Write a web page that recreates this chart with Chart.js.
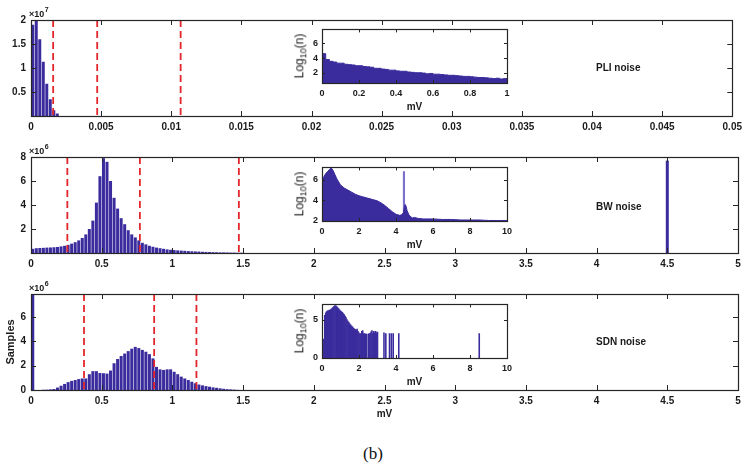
<!DOCTYPE html>
<html><head><meta charset="utf-8">
<script src="https://cdn.jsdelivr.net/npm/chart.js@4/dist/chart.umd.min.js"></script>
<style>
body{margin:0;background:#fff;}
#wrap{position:relative;width:747px;height:472px;overflow:hidden;background:#fff;}
canvas{position:absolute;}
.lbl{position:absolute;font:bold 10px 'Liberation Sans',Arial,sans-serif;color:#1a1a1a;white-space:nowrap;line-height:12px;}
.ylog{position:absolute;font:12px 'Liberation Sans',Arial,sans-serif;color:#1a1a1a;white-space:nowrap;transform:translate(-50%,-50%) rotate(-90deg);line-height:13px;}
.ylog sub{font-size:9px;}
.cap{position:absolute;font:17px 'Liberation Serif','DejaVu Serif',serif;color:#111;white-space:nowrap;}
</style>
</head><body><div id="wrap"></div>
<script>
// ---------------- DATA ----------------
// Panel 1: PLI noise (counts in units of 1e7), bin width 0.00025 mV
const pliBinWidth = 0.00025;
const pliCounts = [1.9, 2.0, 1.6, 1.13, 0.67, 0.35, 0.12, 0.05];
const pliThresholds = [0.00158, 0.00472, 0.01067];
const pliXTicks = [0,0.005,0.01,0.015,0.02,0.025,0.03,0.035,0.04,0.045,0.05];
const pliYTicks = [0,0.5,1,1.5,2];

// Panel 2: BW noise (counts in units of 1e6), bin width 0.025 mV
const bwBinWidth = 0.025;
const bwCounts = [0.35,0.4,0.42,0.43,0.45,0.46,0.48,0.5,0.55,0.6,
  0.68,0.78,0.9,1.05,1.25,1.55,2.0,2.7,4.2,6.4,
  7.9,7.6,6.0,4.6,3.7,2.9,2.4,1.9,1.55,1.3,
  1.05,0.85,0.72,0.6,0.52,0.45,0.4,0.35,0.3,0.27,
  0.24,0.22,0.2,0.18,0.16,0.14,0.13,0.12,0.1,0.09,
  0.08,0.07,0.06,0.05,0.05,0.04,0.03,0.03,0.02,0.02];
const bwSpikeX = [4.5];
const bwSpikeCounts = [7.7];
const bwThresholds = [0.257, 0.77, 1.47];
const mvXTicks = [0,0.5,1,1.5,2,2.5,3,3.5,4,4.5,5];
const bwYTicks = [0,2,4,6,8];

// Panel 3: SDN noise (counts in units of 1e6), bin width 0.025 mV
const sdnBinWidth = 0.025;
const sdnCounts = [7.9,0,0,0.02,0.03,0.05,0.08,0.2,0.35,0.5,
  0.65,0.75,0.82,0.9,0.95,0.95,1.3,1.55,1.55,1.4,
  1.38,1.35,1.6,2.2,2.55,2.8,3.0,3.2,3.4,3.55,
  3.45,3.3,3.15,2.95,2.6,1.9,1.7,1.65,1.7,1.7,
  1.5,1.3,1.1,0.95,0.82,0.68,0.55,0.45,0.38,0.32,
  0.27,0.22,0.18,0.14,0.1,0.07,0.05,0.03,0.01,0];
const sdnThresholds = [0.375, 0.871, 1.17];
const sdnYTicks = [0,2,4,6];

// Inset 1: PLI log10 histogram, 0..1 mV
const pliInsetX = [0,0.02,0.04,0.06,0.08,0.1,0.12,0.14,0.16,0.18,0.2,0.22,0.24,0.26,0.28,0.3,0.32,0.34,0.36,0.38,0.4,0.42,0.44,0.46,0.48,0.5,0.52,0.54,0.56,0.58,0.6,0.62,0.64,0.66,0.68,0.7,0.72,0.74,0.76,0.78,0.8,0.82,0.84,0.86,0.88,0.9,0.92,0.94,0.96,0.98,1.0];
const pliInsetLog = [4.6,3.8,3.55,3.45,3.3,3.3,3.15,3.1,3.05,2.95,2.95,2.85,2.8,2.75,2.6,2.6,2.5,2.45,2.35,2.35,2.25,2.2,2.2,2.1,2.05,2.0,2.0,1.95,1.85,1.9,1.8,1.8,1.75,1.7,1.65,1.65,1.6,1.55,1.5,1.5,1.45,1.4,1.35,1.35,1.3,1.25,1.2,1.25,1.15,1.2,1.1];
const pliInsetXTicks = [0,0.2,0.4,0.6,0.8,1];
const pliInsetYTicks = [2,4,6];

// Inset 2: BW log10 histogram, 0..10 mV
const bwInsetX = [0,0.1,0.2,0.3,0.4,0.5,0.6,0.7,0.8,0.9,1.0,1.2,1.4,1.6,1.8,2.0,2.2,2.4,2.6,2.8,3.0,3.2,3.4,3.6,3.8,4.0,4.2,4.3,4.4,4.45,4.5,4.55,4.6,4.7,4.8,4.9,5.0,5.2,5.5,6.0,6.5,7.0,7.5,8.0,8.5,9.0,9.5,10];
const bwInsetLog = [6.1,6.3,6.6,6.8,7.0,7.15,6.9,6.5,6.1,5.8,5.5,5.2,5.0,4.8,4.6,4.45,4.35,4.25,4.15,4.05,3.95,3.75,3.5,3.2,2.9,2.65,2.55,2.6,2.8,3.3,3.6,3.4,3.0,2.6,2.4,2.3,2.35,2.25,2.2,2.2,2.15,2.15,2.1,2.1,2.1,2.05,2.05,2.05];
const bwInsetSpikeX = [4.43];
const bwInsetSpikeLog = [6.8];
const tenXTicks = [0,2,4,6,8,10];
const bwInsetYTicks = [2,4,6];

// Inset 3: SDN log10 histogram, 0..10 mV
const sdnInsetX = [0.1,0.15,0.2,0.25,0.3,0.35,0.4,0.45,0.5,0.55,0.6,0.65,0.7,0.75,0.8,0.85,0.9,0.95,1.0,1.05,1.1,1.15,1.2,1.25,1.3,1.35,1.4,1.45,1.5,1.55,1.6,1.65,1.7,1.75,1.8,1.85,1.9,1.95,2.0,2.05,2.1,2.15,2.2,2.25,2.3,2.35,2.4,2.45,2.5,2.55,2.6,2.65,2.7,2.75,2.8,2.85,2.9,2.95,3.0,3.35,3.45,3.65,3.75,3.85,4.15,8.5];
const sdnInsetLog = [2.5,5.6,5.95,6.1,6.2,6.25,6.3,6.35,6.45,6.55,6.65,6.8,6.9,6.85,6.75,6.6,6.5,6.35,6.2,6.1,6.0,5.85,5.7,5.5,5.3,5.05,4.85,4.7,4.5,4.35,4.2,4.1,3.95,3.85,3.75,3.7,3.8,3.5,3.3,3.15,3.2,3.5,3.6,3.2,3.2,3.15,3.15,0,3.15,3.2,3.2,3.45,3.6,3.2,3.5,3.3,3.5,3.3,3.4,3.3,3.2,3.2,3.2,3.2,3.2,3.2];
const sdnInsetYTicks = [0,5];

// ---------------- STYLE / HELPERS ----------------
const BAR = '#3a2c9d';
const INK = '#1a1a1a';
const FONT = "'Liberation Sans', Arial, sans-serif";
Chart.defaults.font.family = FONT;
Chart.defaults.color = INK;
Chart.defaults.animation = false;
const wrap = document.getElementById('wrap');
const fmt = v => String(+(+v).toFixed(4));

const deco = {
  id: 'deco',
  afterDatasetsDraw(chart, args, o) {
    const {ctx, chartArea: a, scales: {x, y}} = chart;
    ctx.save();
    if (o.dashes) {
      ctx.strokeStyle = '#e3262b'; ctx.lineWidth = 1.8; ctx.setLineDash([7,4]);
      o.dashes.forEach(v => {
        const px = x.getPixelForValue(v);
        ctx.beginPath(); ctx.moveTo(px, a.top); ctx.lineTo(px, a.bottom); ctx.stroke();
      });
      ctx.setLineDash([]);
    }
    ctx.strokeStyle = '#262626'; ctx.lineWidth = 1;
    const L = o.len;
    x.ticks.forEach(t => {
      const px = Math.round(x.getPixelForValue(t.value)) + 0.5;
      ctx.beginPath(); ctx.moveTo(px, a.bottom); ctx.lineTo(px, a.bottom - L);
      ctx.moveTo(px, a.top); ctx.lineTo(px, a.top + L); ctx.stroke();
    });
    y.ticks.forEach(t => {
      const py = Math.round(y.getPixelForValue(t.value)) + 0.5;
      ctx.beginPath(); ctx.moveTo(a.left, py); ctx.lineTo(a.left + L, py);
      ctx.moveTo(a.right, py); ctx.lineTo(a.right - L, py); ctx.stroke();
    });
    ctx.lineWidth = 1.2;
    ctx.strokeRect(Math.round(a.left) + 0.5, Math.round(a.top) + 0.5, Math.round(a.width), Math.round(a.height));
    if (o.exp) {
      ctx.fillStyle = INK;
      ctx.textBaseline = 'alphabetic'; ctx.textAlign = 'left';
      ctx.font = 'bold 9px ' + FONT;
      ctx.fillText('\u00d710', a.left - 2, a.top - 3);
      const w = ctx.measureText('\u00d710').width;
      ctx.font = 'bold 7px ' + FONT;
      ctx.fillText(o.exp, a.left - 2 + w + 0.5, a.top - 8);
    }
    ctx.restore();
  }
};

function addCanvas(left, top, w, h) {
  const c = document.createElement('canvas');
  c.width = w; c.height = h;
  c.style.left = left + 'px'; c.style.top = top + 'px';
  c.style.width = w + 'px'; c.style.height = h + 'px';
  wrap.appendChild(c);
  return c;
}

const BOXH = 96;
function makeMain(o) {
  const H = 150;
  const c = addCanvas(0, o.boxTop - 20, 747, H);
  const pts = o.counts.map((v, i) => ({x: o.binW * i + o.binW / 2, y: v}));
  (o.extraX || []).forEach((xv, i) => pts.push({x: xv, y: o.extraY[i]}));
  return new Chart(c, {
    type: 'bar',
    data: {datasets: [{data: pts, backgroundColor: BAR, borderWidth: 0, barPercentage: 0.85, categoryPercentage: 1}]},
    options: {
      responsive: false, animation: false, events: [], devicePixelRatio: 1,
      layout: {padding: {top: 20, right: 9, left: 0, bottom: 0}},
      plugins: {legend: {display: false}, tooltip: {enabled: false},
        deco: {dashes: o.dashes, len: 5, exp: o.exp}},
      scales: {
        x: {type: 'linear', offset: false, min: 0, max: o.xTicks[o.xTicks.length - 1],
          grid: {display: false, drawTicks: false, offset: false}, border: {display: false},
          afterBuildTicks: s => { s.ticks = o.xTicks.map(v => ({value: v})); },
          afterFit: s => { s.height = H - 20 - BOXH; },
          ticks: {padding: 5, maxRotation: 0, autoSkip: false, font: {size: 10, weight: 'bold'}, color: INK, callback: v => fmt(v)},
          title: {display: !!o.xTitle, text: o.xTitle || '', font: {size: 10, weight: 'bold'}, color: INK, padding: {top: 0, bottom: 4}}
        },
        y: {min: 0, max: o.yMax,
          grid: {display: false, drawTicks: false}, border: {display: false},
          afterBuildTicks: s => { s.ticks = o.yTicks.map(v => ({value: v})); },
          afterFit: s => { s.width = 31; },
          ticks: {padding: 5, font: {size: 10, weight: 'bold'}, color: INK,
            callback: v => (o.hideZero && v === 0) ? '' : fmt(v)},
          title: {display: !!o.yTitle, text: o.yTitle || '', font: {size: 11, weight: 'bold'}, color: INK, padding: {top: 4, bottom: 0}}
        }
      }
    },
    plugins: [deco]
  });
}

const IH = 55;
function makeInset(o) {
  const H = 8 + IH + 30;
  const c = addCanvas(280, o.boxTop - 8, 240, H);
  new Chart(c, {
    type: o.type,
    data: {datasets: o.datasets},
    options: {
      responsive: false, animation: false, events: [], devicePixelRatio: 1,
      layout: {padding: {top: 8, right: 13, left: 0, bottom: 0}},
      plugins: {legend: {display: false}, tooltip: {enabled: false}, deco: {len: 3}},
      scales: {
        x: {type: 'linear', offset: false, min: 0, max: o.xTicks[o.xTicks.length - 1],
          grid: {display: false, drawTicks: false, offset: false}, border: {display: false},
          afterBuildTicks: s => { s.ticks = o.xTicks.map(v => ({value: v})); },
          afterFit: s => { s.height = 30; },
          ticks: {padding: 5, maxRotation: 0, autoSkip: false, font: {size: 9, weight: 'bold'}, color: INK, callback: v => fmt(v)},
          title: {display: true, text: 'mV', font: {size: 10, weight: 'bold'}, color: INK, padding: {top: 0, bottom: 0}}
        },
        y: {min: o.yMin, max: o.yMax,
          grid: {display: false, drawTicks: false}, border: {display: false},
          afterBuildTicks: s => { s.ticks = o.yTicks.map(v => ({value: v})); },
          afterFit: s => { s.width = 42; },
          ticks: {padding: 4, font: {size: 9, weight: 'bold'}, color: INK, callback: v => fmt(v)}
        }
      }
    },
    plugins: [deco]
  });
  const d = document.createElement('div');
  d.className = 'ylog';
  d.innerHTML = 'Log<sub>10</sub>(n)';
  d.style.left = '302px'; d.style.top = (o.boxTop + IH / 2) + 'px';
  wrap.appendChild(d);
}

function label(text, left, top, cls) {
  const d = document.createElement('div');
  d.className = cls || 'lbl'; d.textContent = text;
  d.style.left = left + 'px'; d.style.top = top + 'px';
  wrap.appendChild(d);
}

// ---------------- BUILD ----------------
makeMain({boxTop: 20, counts: pliCounts, binW: pliBinWidth, xTicks: pliXTicks, yTicks: pliYTicks,
  yMax: 2, hideZero: true, dashes: pliThresholds, exp: '7'});
makeMain({boxTop: 157, counts: bwCounts, binW: bwBinWidth, extraX: bwSpikeX, extraY: bwSpikeCounts,
  xTicks: mvXTicks, yTicks: bwYTicks, yMax: 8, hideZero: true, dashes: bwThresholds, exp: '6'});
makeMain({boxTop: 294, counts: sdnCounts, binW: sdnBinWidth, xTicks: mvXTicks, yTicks: sdnYTicks,
  yMax: 7.9, hideZero: false, dashes: sdnThresholds, exp: '6', xTitle: 'mV', yTitle: 'Samples'});

makeInset({boxTop: 28, type: 'line', xTicks: pliInsetXTicks, yTicks: pliInsetYTicks, yMin: 0.6, yMax: 7.9,
  datasets: [{data: pliInsetX.map((x, i) => ({x, y: pliInsetLog[i]})), borderColor: BAR, backgroundColor: BAR,
    borderWidth: 1, pointRadius: 0, fill: 'start', stepped: true}]});
makeInset({boxTop: 166, type: 'line', xTicks: tenXTicks, yTicks: bwInsetYTicks, yMin: 2, yMax: 7.2,
  datasets: [
    {type: 'line', data: bwInsetX.map((x, i) => ({x, y: bwInsetLog[i]})), borderColor: BAR, backgroundColor: BAR,
      borderWidth: 1, pointRadius: 0, fill: 'start', tension: 0},
    {type: 'bar', data: bwInsetSpikeX.map((x, i) => ({x, y: bwInsetSpikeLog[i]})), backgroundColor: '#7b70cc',
      barThickness: 1.5, borderWidth: 0}
  ]});
makeInset({boxTop: 303, type: 'bar', xTicks: tenXTicks, yTicks: sdnInsetYTicks, yMin: 0, yMax: 7.05,
  datasets: [{data: sdnInsetX.map((x, i) => ({x, y: sdnInsetLog[i]})), backgroundColor: BAR, borderWidth: 0,
    barPercentage: 1, categoryPercentage: 1}]});

label('PLI noise', 596, 62);
label('BW noise', 596, 201);
label('SDN noise', 596, 336);
const cap = document.createElement('div');
cap.className = 'cap'; cap.textContent = '(b)';
cap.style.left = '363px'; cap.style.top = '444px';
wrap.appendChild(cap);
</script>
</body></html>
